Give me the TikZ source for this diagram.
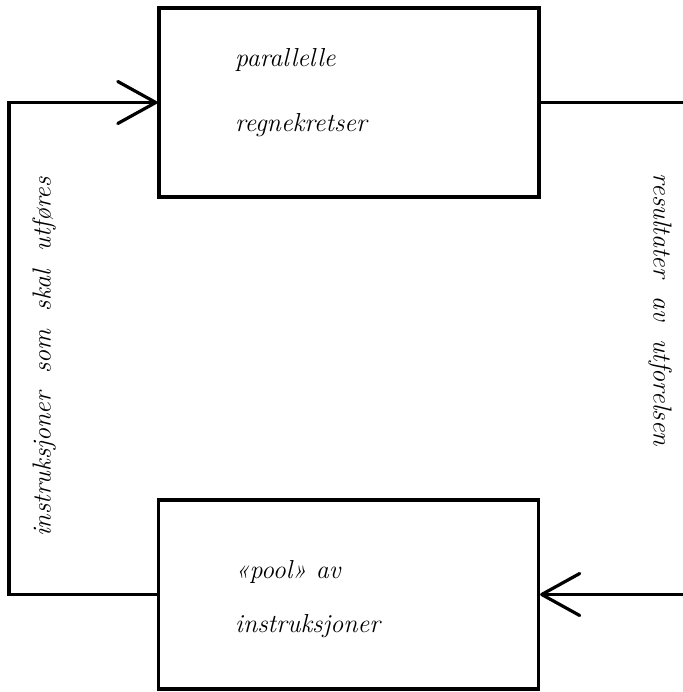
\documentclass[tikz,border=0pt]{standalone}
\usetikzlibrary{arrows.meta}
\newcommand{\wsp}{\hspace{0.7em}}
\begin{document}
\begin{tikzpicture}[x=1pt,y=-1pt,
  boxstyle/.style={draw,line width=3.2pt,rectangle,minimum width=380pt,minimum height=189pt,inner sep=0pt},
  conn/.style={line width=3.2pt},
  openarrow/.style={conn,-{Straight Barb[length=38pt,width=42pt,line width=3.2pt,round]}},
  txt/.style={font=\fontsize{26}{30}\selectfont\itshape,inner sep=0pt},
]
\useasboundingbox (0,0) rectangle (682,692);
\node[boxstyle] (top) at (349,102.5) {};
\node[boxstyle] (bot) at (348.5,594.5) {};
\node[txt,anchor=base west] (t1) at (235,67) {parallelle};
\node[txt,anchor=base west] (t2) at (235,132) {regnekretser};
\node[txt,anchor=base west] (b1) at (235,578) {«pool» av};
\node[txt,anchor=base west] (b2) at (235,632) {instruksjoner};
\coordinate (L) at (9,594.5);
\coordinate (R1) at (690,102.5);
\coordinate (R2) at (690,594.5);
\draw[openarrow] (bot.west) -- (L) |- (top.west);
\draw[conn] (top.east) -- (R1);
\draw[openarrow] (R2) -- (bot.east);
\node[txt,rotate=90] (lt) at (44,357) {instruksjoner\wsp som\wsp skal\wsp utføres};
\node[txt,rotate=-90] (rt) at (660,310) {resultater\wsp av\wsp utforelsen};
\end{tikzpicture}
\end{document}
